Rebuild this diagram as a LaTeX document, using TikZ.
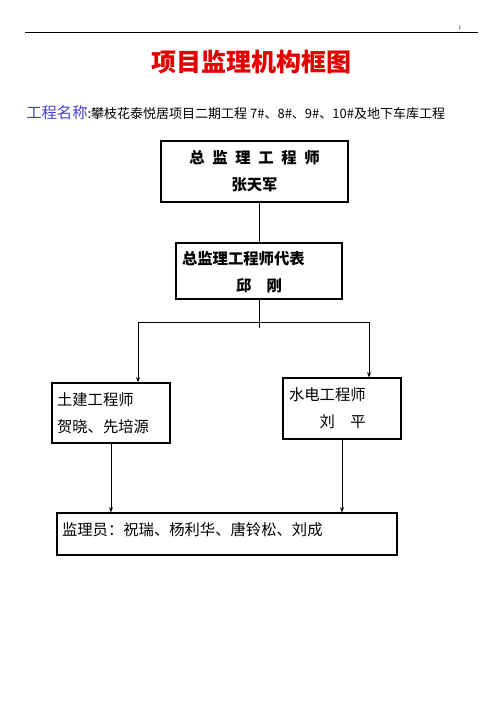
\documentclass[tikz,border=0pt]{standalone}
\usepackage{fontspec}
\setmainfont{Noto Sans CJK SC}
\usetikzlibrary{arrows.meta}
\definecolor{titlered}{RGB}{228,0,0}
\definecolor{nameblue}{RGB}{64,64,205}
\begin{document}
\begin{tikzpicture}[x=0.75pt,y=-0.75pt,
        box/.style={draw,line width=0.8pt,inner ysep=0pt,align=left,
            font=\fontsize{11.5}{20.25}\selectfont},
        link/.style={line width=0.6pt},
        arr/.style={line width=0.6pt,-{Stealth[length=4pt,width=3pt]}}]
    \useasboundingbox (0,0) rectangle (503,711);
    % header rule and title
    \draw[line width=0.6pt] (25,32)--(478,32);
    \node (pg) at (460,28) {\fontsize{3.5}{4}\selectfont 1};
    \node[text=titlered,font=\fontsize{18.75}{22}\selectfont\bfseries] (title) at (251,62) {项目监理机构框图};
    \node[anchor=west,inner sep=0pt,font=\fontsize{9.75}{12}\selectfont] (proj) at (26,113)
        {{\fontsize{11.5}{12}\selectfont\color{nameblue}工程名称}:攀枝花泰悦居项目二期工程 7\#、8\#、9\#、10\#及地下车库工程};
    % boxes
    \node[box,align=center,font=\fontsize{11.5}{20.25}\selectfont\bfseries,
        minimum width=140.25pt,minimum height=45.75pt] (zj) at (254.5,171.5)
        {总\hspace{0.5em}监\hspace{0.5em}理\hspace{0.5em}工\hspace{0.5em}程\hspace{0.5em}师\\张天军};
    \node[box,font=\fontsize{11.5}{20.25}\selectfont\bfseries,inner xsep=4.5pt,text width=115.5pt,
        minimum height=42pt] (db) at (259,271)
        {\rule{0pt}{12pt}总监理工程师代表\\\hspace*{40.5pt}邱\quad 刚};
    \node[box,inner xsep=3.75pt,text width=81pt,minimum height=45pt] (tj) at (111,413)
        {土建工程师\\贺晓、先培源};
    \node[box,inner xsep=4.5pt,text width=79.5pt,minimum height=45.75pt] (sd) at (342,408.5)
        {水电工程师\\\hspace*{23pt}刘\quad 平};
    \node[box,inner xsep=3.75pt,text width=247.5pt,text depth=7.5pt,minimum height=31.5pt] (jly) at (227,534)
        {监理员：祝瑞、杨利华、唐铃松、刘成};
    % connectors
    \coordinate (jL) at (138,322);
    \coordinate (jR) at (369,322);
    \draw[link] (db.north |- zj.south)--(db.north);
    \draw[link] (db.south)--++(0,28);
    \draw[link] (jL)--(jR);
    \draw[arr] (jL)--(jL |- tj.north);
    \draw[arr] (jR)--(jR |- sd.north);
    \draw[arr] (tj.south)--(tj.south |- jly.north);
    \draw[arr] (sd.south)--(sd.south |- jly.north);
\end{tikzpicture}
\end{document}
